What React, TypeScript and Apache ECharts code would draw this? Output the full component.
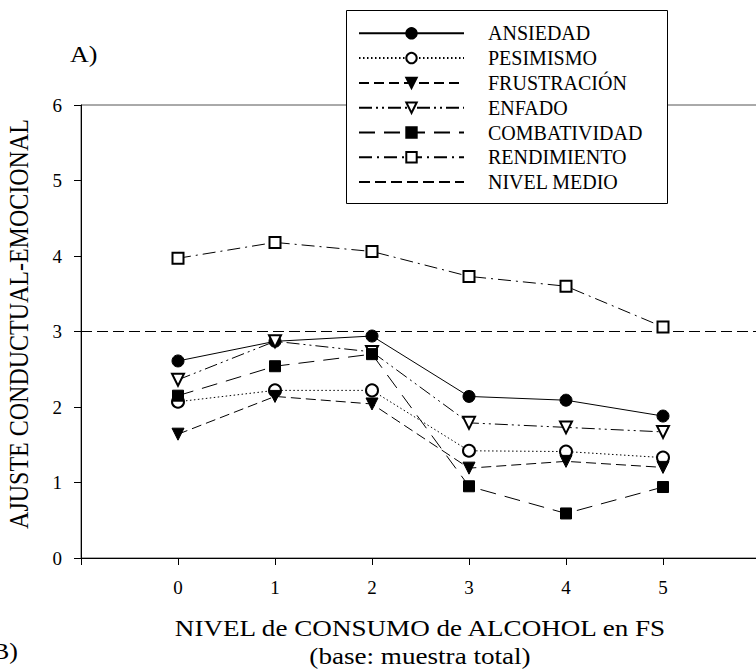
import React, { useEffect, useRef } from "react";
import * as echarts from "echarts";

const niveles = [0, 1, 2, 3, 4, 5];
const ansiedad = [2.61, 2.87, 2.94, 2.14, 2.09, 1.88];
const pesimismo = [2.07, 2.22, 2.22, 1.42, 1.41, 1.33];
const frustracion = [1.64, 2.14, 2.04, 1.19, 1.28, 1.2];
const enfado = [2.36, 2.87, 2.73, 1.79, 1.73, 1.67];
const combatividad = [2.15, 2.54, 2.7, 0.95, 0.59, 0.94];
const rendimiento = [3.97, 4.18, 4.06, 3.73, 3.6, 3.06];
const nivelMedio = 3;
const xRange = [-1, 6];
const yTicks = [0, 1, 2, 3, 4, 5, 6];

const FONT = "'Liberation Serif', 'DejaVu Serif', serif";

const pairs = (ys: number[]) => niveles.map((x, i) => [x, ys[i]]);

const mkSeries = (
  name: string,
  ys: number[],
  symbol: string,
  dash: number[] | "solid",
  rotate = 0,
  size = 12
) => ({
  name,
  type: "line",
  data: pairs(ys),
  symbol,
  symbolSize: size,
  symbolRotate: rotate,
  showAllSymbol: true,
  lineStyle: { color: "#000", width: 1, type: dash },
  itemStyle: { color: "#000", borderColor: "#000", borderWidth: 1 },
  emphasis: { disabled: true },
  z: 2,
});

export default function App() {
  const ref = useRef<HTMLDivElement>(null);
  useEffect(() => {
    if (!ref.current) return;
    const chart = echarts.init(ref.current, undefined, { renderer: "svg" });
    const series: any[] = [
      mkSeries("ANSIEDAD", ansiedad, "circle", "solid", 0, 12),
      mkSeries("PESIMISMO", pesimismo, "emptyCircle", [1.5, 2.5], 0, 12),
      mkSeries("FRUSTRACIÓN", frustracion, "triangle", [10, 5], 180, 12),
      mkSeries("ENFADO", enfado, "emptyTriangle", [13, 4, 2, 4, 2, 4], 180, 12),
      mkSeries("COMBATIVIDAD", combatividad, "rect", [16, 9], 0, 11),
      mkSeries("RENDIMIENTO", rendimiento, "emptyRect", [13, 5, 2, 5], 0, 11),
      {
        name: "NIVEL MEDIO",
        type: "line",
        data: [
          [xRange[0], nivelMedio],
          [xRange[1], nivelMedio],
        ],
        symbol: "none",
        lineStyle: { color: "#000", width: 1, type: [11, 5] },
        itemStyle: { color: "#000" },
        emphasis: { disabled: true },
        z: 1,
      },
    ];
    const legendNames = series.map((s) => s.name);
    chart.setOption({
      animation: false,
      backgroundColor: "#fff",
      textStyle: { fontFamily: FONT, color: "#000" },
      grid: {
        left: 81,
        top: 105,
        width: 679,
        height: 453,
        show: true,
        borderColor: "#555",
        borderWidth: 1,
        backgroundColor: "transparent",
        outerBoundsMode: "none",
        containLabel: false,
      },
      xAxis: {
        type: "value",
        min: xRange[0],
        max: xRange[1],
        interval: 1,
        splitLine: { show: false },
        axisLine: { show: true, onZero: false, lineStyle: { color: "#000", width: 1 } },
        axisTick: { show: true, inside: false, length: 7, lineStyle: { color: "#000" } },
        axisLabel: {
          margin: 20,
          fontSize: 19,
          fontFamily: FONT,
          color: "#000",
          formatter: (v: number) => (v >= 0 && v <= 5 ? String(v) : ""),
        },
      },
      yAxis: {
        type: "value",
        min: yTicks[0],
        max: yTicks[yTicks.length - 1],
        interval: 1,
        splitLine: { show: false },
        axisLine: { show: true, onZero: false, lineStyle: { color: "#000", width: 1 } },
        axisTick: { show: true, inside: false, length: 7, lineStyle: { color: "#000" } },
        axisLabel: { margin: 19, fontSize: 19, fontFamily: FONT, color: "#000" },
      },
      legend: {
        show: true,
        orient: "vertical",
        left: 358,
        top: 23.3,
        padding: 0,
        itemWidth: 105,
        itemHeight: 13,
        itemGap: 4.8,
        selectedMode: false,
        data: legendNames.map((n) =>
          n === "NIVEL MEDIO" ? { name: n, itemStyle: { opacity: 0 } } : { name: n }
        ),
        textStyle: {
          fontFamily: FONT,
          fontSize: 20,
          color: "#000",
          padding: [0, 0, 0, 19],
        },
        z: 5,
      },
      graphic: [
        {
          type: "rect",
          z: 4,
          shape: { x: 346.5, y: 10.5, width: 321, height: 193 },
          style: { fill: "#fff", stroke: "#000", lineWidth: 1 },
        },
        {
          type: "text",
          x: 70,
          y: 54,
          scaleX: 1.13,
          style: {
            text: "A)",
            font: `23px ${FONT}`,
            fill: "#000",
            textAlign: "left",
            textVerticalAlign: "middle",
            align: "left",
            verticalAlign: "middle",
          },
        },
        {
          type: "text",
          x: 18,
          y: 651,
          scaleX: 1.13,
          style: {
            text: "B)",
            font: `23px ${FONT}`,
            fill: "#000",
            textAlign: "right",
            textVerticalAlign: "middle",
            align: "right",
            verticalAlign: "middle",
          },
        },
        {
          type: "text",
          x: 420,
          y: 628,
          scaleX: 1.13,
          style: {
            text: "NIVEL de CONSUMO de ALCOHOL en FS",
            font: `24px ${FONT}`,
            fill: "#000",
            textAlign: "center",
            textVerticalAlign: "middle",
            align: "center",
            verticalAlign: "middle",
          },
        },
        {
          type: "text",
          x: 420,
          y: 656,
          scaleX: 1.13,
          style: {
            text: "(base: muestra total)",
            font: `24px ${FONT}`,
            fill: "#000",
            textAlign: "center",
            textVerticalAlign: "middle",
            align: "center",
            verticalAlign: "middle",
          },
        },
        {
          type: "text",
          x: 19,
          y: 324,
          rotation: Math.PI / 2,
          scaleY: 1.13,
          style: {
            text: "AJUSTE CONDUCTUAL-EMOCIONAL",
            font: `24px ${FONT}`,
            fill: "#000",
            textAlign: "center",
            textVerticalAlign: "middle",
            align: "center",
            verticalAlign: "middle",
          },
        },
      ],
      series,
    });
    return () => chart.dispose();
  }, []);
  return (
    <div
      ref={ref}
      style={{ position: "fixed", left: 0, top: 0, width: 756, height: 669 }}
    />
  );
}
